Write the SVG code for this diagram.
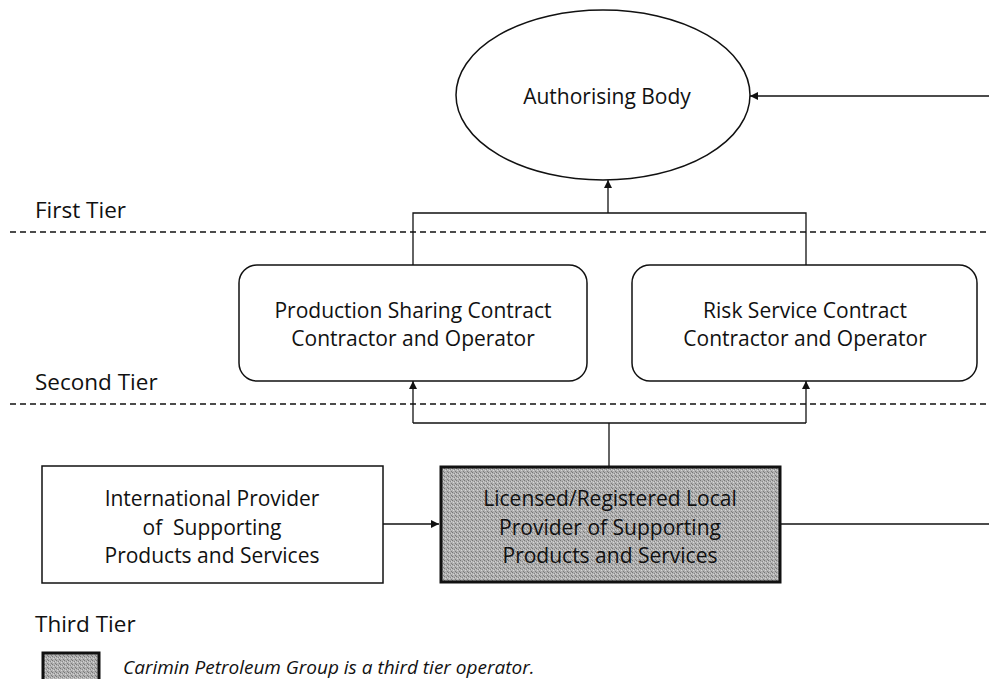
<svg xmlns="http://www.w3.org/2000/svg" width="989" height="679" viewBox="0 0 989 679">
<style>
text{font-family:"Open Sans","Liberation Sans",sans-serif;fill:#111;}
.lbl{font-size:21px;text-anchor:middle;}
.tier{font-size:22.5px;}
.node{fill:#fff;stroke:#111;stroke-width:1.5;}
.conn{fill:none;stroke:#111;stroke-width:1.3;}
.dash{stroke:#111;stroke-width:1.6;stroke-dasharray:6,4;}
</style>
<defs>
<marker id="ah" viewBox="0 0 10 10" refX="10" refY="5" markerWidth="8" markerHeight="8" markerUnits="userSpaceOnUse" orient="auto">
<path d="M0,0 L10,5 L0,10 Z" fill="#111"/>
</marker>
<pattern id="stip" width="4" height="4" patternUnits="userSpaceOnUse">
<rect width="4" height="4" fill="#b0b0b0"/>
<rect x="0" y="0" width="1" height="1" fill="#777"/>
<rect x="2" y="1" width="1" height="1" fill="#888"/>
<rect x="1" y="2" width="1" height="1" fill="#d6d6d6"/>
<rect x="3" y="3" width="1" height="1" fill="#7d7d7d"/>
<rect x="3" y="1" width="1" height="1" fill="#cfcfcf"/>
</pattern>
</defs>

<g id="tiers">
<text class="tier" x="35" y="218">First Tier</text>
<line class="dash" x1="10" y1="232" x2="989" y2="232"/>
<text class="tier" x="35" y="390">Second Tier</text>
<line class="dash" x1="10" y1="404" x2="989" y2="404"/>
<text class="tier" x="35" y="632">Third Tier</text>
</g>

<g id="connectors">
<line class="conn" x1="989" y1="96" x2="750" y2="96" marker-end="url(#ah)"/>
<polyline class="conn" points="413,265 413,213 806,213 806,265"/>
<line class="conn" x1="608" y1="213" x2="608" y2="180" marker-end="url(#ah)"/>
<line class="conn" x1="609" y1="466" x2="609" y2="423"/>
<polyline class="conn" points="413,423 413,381" marker-end="url(#ah)"/>
<polyline class="conn" points="806,423 806,381" marker-end="url(#ah)"/>
<line class="conn" x1="413" y1="423" x2="806" y2="423"/>
<line class="conn" x1="383" y1="524" x2="439" y2="524" marker-end="url(#ah)"/>
<line class="conn" x1="781" y1="524" x2="989" y2="524"/>
</g>

<g id="authorising-body">
<ellipse class="node" cx="603" cy="95" rx="147" ry="85"/>
<text class="lbl" x="607" y="104">Authorising Body</text>
</g>

<g id="psc">
<rect class="node" x="239" y="265" width="348" height="116" rx="18"/>
<text class="lbl" x="413" y="318">Production Sharing Contract</text>
<text class="lbl" x="413" y="346">Contractor and Operator</text>
</g>

<g id="rsc">
<rect class="node" x="632" y="265" width="345" height="116" rx="18"/>
<text class="lbl" x="805" y="318">Risk Service Contract</text>
<text class="lbl" x="805" y="346">Contractor and Operator</text>
</g>

<g id="international">
<rect class="node" x="42" y="466" width="341" height="117"/>
<text class="lbl" x="212" y="506">International Provider</text>
<text class="lbl" x="212" y="535" xml:space="preserve">of  Supporting</text>
<text class="lbl" x="212" y="563">Products and Services</text>
</g>

<g id="local">
<rect x="441" y="467" width="339" height="115" fill="url(#stip)" stroke="#111" stroke-width="3"/>
<text class="lbl" x="610" y="506">Licensed/Registered Local</text>
<text class="lbl" x="610" y="535">Provider of Supporting</text>
<text class="lbl" x="610" y="563">Products and Services</text>
</g>

<g id="legend">
<rect x="43" y="653" width="56" height="30" fill="url(#stip)" stroke="#111" stroke-width="3"/>
<text x="123" y="674" font-size="19" font-style="italic">Carimin Petroleum Group is a third tier operator.</text>
</g>
</svg>
